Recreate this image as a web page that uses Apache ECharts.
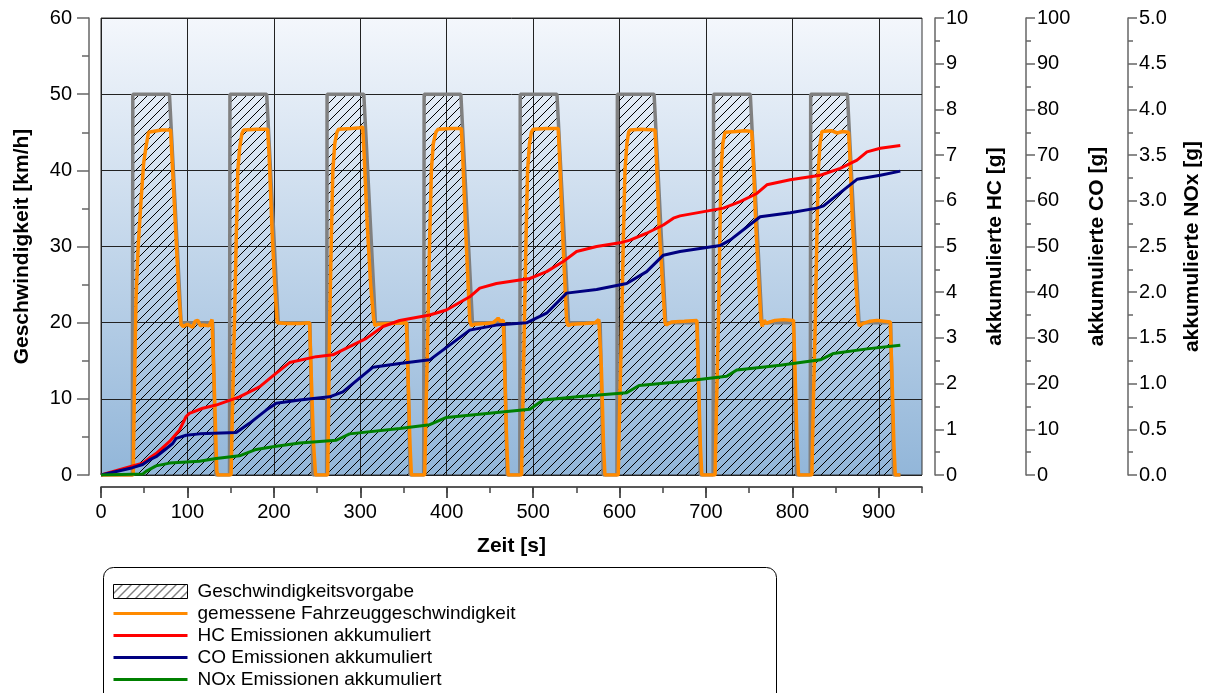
<!DOCTYPE html>
<html><head><meta charset="utf-8">
<script src="https://cdn.jsdelivr.net/npm/echarts@6/dist/echarts.min.js"></script>
<style>html,body{margin:0;padding:0;background:#fff}#c{width:1212px;height:693px}</style>
</head><body><div id="c"></div>
<script>
// ---- data (time [s], value) ----
const xMajorTicks = [0,100,200,300,400,500,600,700,800,900];

const scheduleSpeed = [[0,0],[36.3,0],[36.8,50],[79.2,50],[92.7,20],[129.3,20],[132.8,0],
[148.7,0],[149.2,50],[191.7,50],[205.1,20],[241.7,20],[245.2,0],
[261.1,0],[261.6,50],[304.1,50],[317.5,20],[354.1,20],[357.6,0],
[373.4,0],[373.9,50],[416.4,50],[429.8,20],[466.4,20],[469.9,0],
[484.6,0],[485.1,50],[527.6,50],[541,20],[577.6,20],[581.1,0],
[597,0],[597.5,50],[640,50],[653.4,20],[690,20],[693.5,0],
[708.3,0],[708.8,50],[751.3,50],[764.7,20],[801.3,20],[804.8,0],
[820.7,0],[821.2,50],[863.7,50],[877.1,20],[913.7,20],[917.2,0],[925,0]];

const measuredSpeed = [[0,0],[37.3,0],[38.5,10],[40.5,23],[43,30],[46.3,36],[49.4,41],[52.1,43.1],[55,45],[57,45.2],[70,45.3],[80.5,45.3],[82,42],[86,33],[90,24],[92.5,19.8],[95,19.5],[100,19.8],[106,19.4],[109,20.2],[112,20.3],[115,19.6],[118,19.7],[125,19.6],[128.5,20.4],[129.5,20.2],[131.5,10],[134,0.5],[135,0],
[150.5,0],[152,8],[154.4,20],[156.5,31],[158.3,40],[160.5,43],[163,44.8],[165,45.3],[180,45.4],[192.8,45.4],[194.5,42],[198,32],[201,25],[203.9,20],[205,19.8],[215,19.9],[230,19.9],[241.3,20],[243,14],[246,4],[248.3,0],
[262.3,0],[263.3,8],[264.6,20],[266.5,31],[268.3,40],[270.5,43.5],[273,45],[275,45.4],[290,45.5],[300,45.6],[302.8,45.7],[304.5,42],[308,33],[312,25],[315.5,20.5],[317,19.6],[320,19.8],[335,19.9],[353.4,20],[355,14],[357.5,4],[359.2,0],
[374.6,0],[376,8],[378.4,20],[380.3,31],[382.3,40],[384.5,43.5],[387.5,45],[390,45.4],[405,45.5],[417,45.5],[418.5,42],[422,32],[426.7,20.2],[428.5,19.6],[432,19.8],[445,19.9],[453.7,20],[457,20.3],[459.5,20.6],[462,20.2],[465.5,20.3],[467,14],[469.5,4],[471.1,0],
[486.6,0],[488,8],[489.9,20],[491.8,31],[493.6,40],[495.8,43.5],[498,45],[500.1,45.4],[515,45.5],[529,45.5],[530.5,42],[534,32],[538.8,20.2],[540.5,19.6],[545,19.8],[560,19.9],[572,20],[576,20.4],[577.3,20.3],[579,14],[581.5,4],[583.1,0],
[598.5,0],[600,8],[602.5,20],[604.4,31],[606.3,40],[608.5,43.5],[610.5,45],[612.1,45.3],[625,45.4],[641,45.3],[642.5,42],[646,32],[652.6,20],[654,19.7],[660,20.1],[675,20.2],[689.4,20.3],[691,14],[693.5,4],[695.2,0],
[710.6,0],[712,8],[714.4,20],[716,31],[717.5,40],[719.5,43.5],[722,45],[724.1,45.2],[735,45.1],[745,45.2],[753,45.1],[754.5,42],[758,32],[763.5,20.5],[765,19.5],[767.5,20.3],[770,19.9],[774,20.1],[780,20.3],[790,20.4],[801.3,20.3],[803,14],[805.5,4],[807.1,0],
[822.6,0],[824,8],[826.5,20],[828.3,31],[830,40],[832,43.5],[834.2,45.1],[845,45.2],[852,44.9],[858,45.1],[865,45],[866.5,42],[870,32],[876,20.3],[877.5,19.6],[882,19.9],[890,20.2],[898,20.3],[913.3,20.1],[915,14],[917.5,4],[919.1,0],[925,0]];

const hcCum = [[0,0],[36.6,0.20],[48.2,0.26],[56,0.37],[63.7,0.47],[79.1,0.73],[90.7,0.98],[98.5,1.28],[102.3,1.35],[117.7,1.46],[133.2,1.53],[160.2,1.71],[183.4,1.93],[202.8,2.23],[218.2,2.46],[249.1,2.59],[268.3,2.63],[287.7,2.81],[307,2.99],[326.3,3.25],[345.6,3.38],[380.4,3.50],[399.7,3.61],[426.7,3.90],[438.3,4.09],[457.6,4.19],[496.2,4.30],[515.6,4.45],[534.8,4.67],[550.3,4.89],[573.5,5.00],[600.5,5.08],[612.1,5.14],[631.4,5.29],[650.7,5.47],[662.3,5.62],[670,5.67],[720.2,5.84],[739.5,5.98],[758.9,6.16],[770.5,6.35],[797.5,6.46],[832.3,6.56],[855.4,6.71],[874.8,6.89],[886.3,7.07],[901.7,7.15],[924.9,7.21]];

const coCum = [[0,0],[36.6,1.6],[48.2,2.3],[56,3.3],[63.7,4.0],[83,6.9],[86.9,8.0],[98.5,8.7],[113.9,9.0],[156.4,9.3],[171.8,11.3],[191.2,14.2],[202.8,15.7],[229.8,16.4],[264.5,17.1],[279.9,18.2],[314.7,23.6],[345.6,24.4],[380.4,25.2],[426.7,31.7],[457.6,32.8],[492.4,33.3],[515.6,35.4],[538.8,39.8],[573.5,40.6],[608.3,41.9],[631.4,44.5],[650.7,48.1],[670,48.9],[716.3,50.2],[727.9,51.4],[762.7,56.5],[797.5,57.4],[828.4,58.4],[836.1,58.9],[874.8,64.7],[901.7,65.6],[924.9,66.5]];

const noxCum = [[0,0],[48.2,0.01],[52.1,0.04],[63.7,0.10],[79.1,0.13],[113.9,0.15],[133.2,0.18],[160.2,0.21],[179.6,0.28],[198.8,0.31],[229.8,0.35],[272.3,0.38],[287.7,0.45],[345.6,0.51],[380.4,0.55],[399.7,0.63],[496.2,0.72],[511.6,0.82],[554.2,0.86],[608.3,0.90],[622.6,0.98],[670,1.02],[724.1,1.08],[735.7,1.15],[785.9,1.20],[832.3,1.26],[847.7,1.33],[886.3,1.38],[924.9,1.42]];

const seriesNames = ['Geschwindigkeitsvorgabe','gemessene Fahrzeuggeschwindigkeit','HC Emissionen akkumuliert','CO Emissionen akkumuliert','NOx Emissionen akkumuliert'];
const axisNames = {x:'Zeit [s]', speed:'Geschwindigkeit [km/h]', hc:'akkumulierte HC [g]', co:'akkumulierte CO [g]', nox:'akkumulierte NOx [g]'};

// ---- hatch pattern ----
function makeHatch(){
  const s = 9, c = document.createElement('canvas');
  c.width = s; c.height = s;
  const g = c.getContext('2d');
  g.strokeStyle = '#000'; g.lineWidth = 1;
  g.beginPath();
  g.moveTo(-1, s+1); g.lineTo(s+1, -1);
  g.moveTo(-1, 1); g.lineTo(1, -1);
  g.moveTo(s-1, s+1); g.lineTo(s+1, s-1);
  g.stroke();
  return c;
}
const hatch = {image: makeHatch(), repeat: 'repeat'};
const FF = '"Liberation Sans", Arial, sans-serif';
const axisCol = '#666';
const nameStyle = {fontFamily:FF, fontSize:21, fontWeight:'bold', color:'#000'};
const TICK_FS = 20;

const chart = echarts.init(document.getElementById('c'), null, {renderer:'canvas'});
function rightAxis(name, max, interval, offset, gap, fmt){
  return {
    type:'value', position:'right', offset: offset, min:0, max:max, interval:interval,
    name:name, nameLocation:'middle', nameRotate:90, nameGap:gap,
    nameTextStyle:nameStyle,
    axisLine:{show:true, onZero:false, lineStyle:{color:axisCol, width:1.5}},
    axisTick:{show:true, length:9, lineStyle:{color:axisCol, width:1.5}},
    minorTick:{show:true, splitNumber:2, length:5, lineStyle:{color:axisCol, width:1.5}},
    axisLabel:{fontFamily:FF, fontSize:TICK_FS, color:'#000', margin:11, formatter: fmt},
    splitLine:{show:false}
  };
}
const hidden = {color:'rgba(0,0,0,0)', borderWidth:0};
const option = {
  animation:false,
  backgroundColor:'#fff',
  grid:{left:101, top:18, right:290, bottom:218, show:true, borderColor:'#333', borderWidth:1,
    backgroundColor:{type:'linear', x:0, y:0, x2:0, y2:1, colorStops:[{offset:0,color:'#f4f7fc'},{offset:1,color:'#92b6d9'}]}},
  xAxis:[{type:'value', min:0, max:950, interval:100, offset:12,
    name:axisNames.x, nameLocation:'middle', nameGap:49,
    nameTextStyle:nameStyle,
    axisLine:{show:true, onZero:false, lineStyle:{color:'#222', width:1.5}},
    axisTick:{show:true, length:11, customValues:xMajorTicks, lineStyle:{color:'#222', width:1.5}},
    minorTick:{show:false},
    axisLabel:{fontFamily:FF, fontSize:TICK_FS, color:'#000', margin:15, showMaxLabel:false},
    splitLine:{show:true, lineStyle:{color:'#222', width:1}}
  },{type:'value', min:0, max:950, interval:50, offset:12, position:'bottom',
    axisLine:{show:false, onZero:false},
    axisTick:{show:true, length:6, lineStyle:{color:'#444', width:1.5}},
    axisLabel:{show:false}, splitLine:{show:false}
  }],
  yAxis:[
    {type:'value', position:'left', offset:12, min:0, max:60, interval:10,
     name:axisNames.speed, nameLocation:'middle', nameRotate:90, nameGap:56,
     nameTextStyle:nameStyle,
     axisLine:{show:true, onZero:false, lineStyle:{color:axisCol, width:1.5}},
     axisTick:{show:true, length:12, lineStyle:{color:axisCol, width:1.5}},
     minorTick:{show:true, splitNumber:2, length:7, lineStyle:{color:axisCol, width:1.5}},
     axisLabel:{fontFamily:FF, fontSize:TICK_FS, color:'#000', margin:17},
     splitLine:{show:true, lineStyle:{color:'#222', width:1}}},
    rightAxis(axisNames.hc, 10, 1, 13, 50, null),
    rightAxis(axisNames.co, 100, 10, 104, 61, null),
    rightAxis(axisNames.nox, 5, 0.5, 206, 54, v => v.toFixed(1))
  ],
  legend:{orient:'vertical', left:112, top:582, height:300, padding:0, itemWidth:74, itemHeight:14, itemGap:3,
    textStyle:{fontFamily:FF, fontSize:19, color:'#000', padding:[0,0,0,5]},
    data:[
      {name:seriesNames[0], icon:'rect', itemStyle:{color:hatch, borderColor:'#000', borderWidth:1}},
      {name:seriesNames[1], itemStyle:hidden, lineStyle:{width:3}}, {name:seriesNames[2], itemStyle:hidden, lineStyle:{width:3}},
      {name:seriesNames[3], itemStyle:hidden, lineStyle:{width:3}}, {name:seriesNames[4], itemStyle:hidden, lineStyle:{width:3}}
    ]},
  graphic:[{type:'rect', left:101, top:565, shape:{width:673, height:160, r:10}, style:{fill:'none', stroke:'#000', lineWidth:1}, z:-1}],
  series:[
    {name:seriesNames[0], type:'line', data:scheduleSpeed, yAxisIndex:0, symbol:'none', z:1,
     lineStyle:{color:'#808080', width:3.5}, itemStyle:{color:'#808080'},
     areaStyle:{color:hatch, opacity:1}},
    {name:seriesNames[1], type:'line', data:measuredSpeed, yAxisIndex:0, symbol:'none', z:2,
     lineStyle:{color:'#ff8a00', width:3.5}, itemStyle:{color:'#ff8a00'}},
    {name:seriesNames[2], type:'line', data:hcCum, yAxisIndex:1, symbol:'none', z:3,
     lineStyle:{color:'#ff0000', width:3}, itemStyle:{color:'#ff0000'}},
    {name:seriesNames[3], type:'line', data:coCum, yAxisIndex:2, symbol:'none', z:3,
     lineStyle:{color:'#000080', width:3}, itemStyle:{color:'#000080'}},
    {name:seriesNames[4], type:'line', data:noxCum, yAxisIndex:3, symbol:'none', z:3,
     lineStyle:{color:'#008000', width:3}, itemStyle:{color:'#008000'}}
  ]
};
chart.setOption(option);
</script></body></html>
